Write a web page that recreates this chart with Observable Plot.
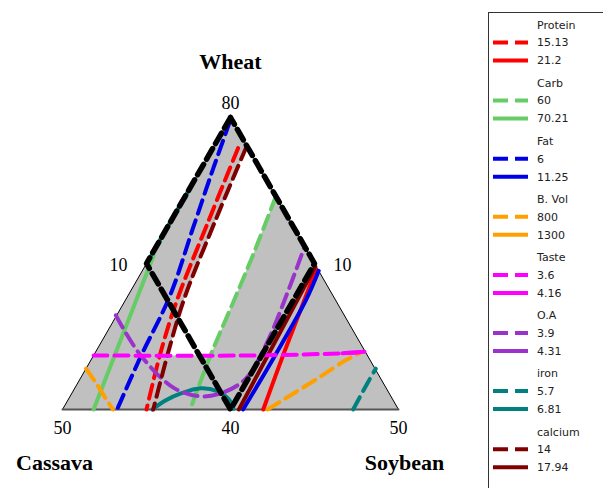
<!DOCTYPE html>
<html><head><meta charset="utf-8">
<script src="https://cdn.jsdelivr.net/npm/d3@7"></script>
<script src="https://cdn.jsdelivr.net/npm/@observablehq/plot@0.6"></script>
<style>
body{margin:0;background:#fff;}
#wrap{position:relative;width:603px;height:488px;overflow:hidden;background:#fff;}
#chart{position:absolute;left:0;top:0;}
#legend{position:absolute;left:488px;top:12px;}
</style></head><body>
<div id="wrap"><div id="chart"></div><div id="legend"></div></div>
<script>
// Mixture space (%): Wheat 40–80, Cassava 10–50, Soybean 10–50
const componentNames = ["Wheat", "Cassava", "Soybean"];
const wheatMin = 40, soyMin = 10, span = 40;

// Vertex / side labels as [wheat, soybean] compositions
const tickLabels = ["80", "10", "10", "50", "40", "50"];
const tickPoints = [[80,10],[60,10],[60,30],[40,10],[40,30],[40,50]];

// Legend
const responses = ["Protein", "Carb", "Fat", "B. Vol", "Taste", "O.A", "iron", "calcium"];
const lowLevels = ["15.13", "60", "6", "800", "3.6", "3.9", "5.7", "14"];
const highLevels = ["21.2", "70.21", "11.25", "1300", "4.16", "4.31", "6.81", "17.94"];
const colors = ["#ff0000", "#66cc66", "#0000e8", "#ffa000", "#ff00ff", "#9933cc", "#008080", "#800000"];

// Constraint region boundary (cassava ≤ 30, soybean ≤ 30) and overlaid feasible (white) region
const constraintBoundary = [[80,10],[60,10],[40,30],[60,30],[80,10]];
const feasibleRegion = [[76.0,13.9],[69.2,20.8],[61.8,22.0],[55.3,22.9],[47.4,23.9],[47.4,18.8],[48.1,18.6],[55.2,16.9],[65.6,15.3],[76.0,13.9]];

// Contour lines, points as [wheat %, soybean %]
const proteinLow  = [[75.8,13.0],[65.6,14.5],[55.2,16.1],[48.1,17.7],[40,20.0]];
const proteinHigh = [[59.2,30.6],[53.2,31.6],[47.7,32.5],[40,33.9]];
const carbLow     = [[69.2,20.8],[61.8,22.0],[55.3,22.9],[47.5,23.9],[40,25.2]];
const carbHigh    = [[61.1,10.3],[40,13.7]];
const fatLow      = [[79.5,10.2],[73.2,11.4],[64.9,13.1],[55.6,15.0],[47.1,15.7],[40,16.5]];
const fatHigh     = [[59.0,31.0],[54.9,31.5],[47.1,31.6],[40,31.5]];
const bvolLowA    = [[40,34.4],[44.2,38.2],[46.7,40.3],[47.9,41.7]];
const bvolLowB    = [[45.6,10.0],[43.7,12.1],[41.5,14.4],[40,16.0]];
const tasteLow    = [[47.4,10.0],[47.4,28.7],[47.7,39.3],[47.9,42.0]];
const tasteHigh   = [[47.7,39.5],[47.9,42.0]];
const oaLow       = [[52.9,9.9],[47.5,15.5],[43.0,21.7],[41.8,25.5],[42.3,27.9],[44.2,29.7],[48.8,29.8],[55.9,28.8],[62.1,27.7]];
const ironLowA    = [[40,44.6],[43.6,44.5],[45.6,44.5]];
const ironLowB    = [[71.0,10.0],[61.0,10.0]];
const ironHigh    = [[40,20.7],[41.2,21.6],[42.2,23.0],[42.9,25.0],[42.5,27.2],[41.4,29.1],[40.1,30.3]];
const calciumLow  = [[76.0,13.9],[65.6,15.3],[55.2,16.9],[48.1,18.6],[40,20.8]];
const calciumHigh = [[59.6,30.3],[40,31.0]];

const contours = [
  {r:0, dashed:true,  pts:proteinLow},  {r:0, dashed:false, pts:proteinHigh},
  {r:1, dashed:true,  pts:carbLow},     {r:1, dashed:false, pts:carbHigh},
  {r:2, dashed:true,  pts:fatLow},      {r:2, dashed:false, pts:fatHigh},
  {r:3, dashed:true,  pts:bvolLowA},    {r:3, dashed:true,  pts:bvolLowB},
  {r:6, dashed:true,  pts:ironLowA},    {r:6, dashed:true,  pts:ironLowB},
  {r:6, dashed:false, pts:ironHigh},
  {r:5, dashed:true,  pts:oaLow},
  {r:7, dashed:true,  pts:calciumLow},  {r:7, dashed:false, pts:calciumHigh},
  {r:4, dashed:true,  pts:tasteLow},    {r:4, dashed:false, pts:tasteHigh}
];

// ternary → cartesian (pseudo-components)
const H = Math.sqrt(3) / 2;
function tern([w, s]) {
  const W = (w - wheatMin) / span, S = (s - soyMin) / span;
  return {x: S + W / 2, y: W * H};
}
const toXY = (arr) => arr.map(tern);

const triangle = toXY([[80,10],[40,10],[40,50],[80,10]]);
const leftRight = toXY([[40,10],[80,10],[40,50]]);
const bottom = toXY([[40,10],[40,50]]);

const contourMarks = contours.map(c => Plot.line(toXY(c.pts), {
  x: "x", y: "y", stroke: colors[c.r], strokeWidth: 4,
  strokeDasharray: c.dashed ? "14,7" : null, curve: "catmull-rom"
}));

const ticks = tickPoints.map((p, i) => ({...tern(p), label: tickLabels[i]}));
const tickDx = [0, -28, 28, 0, 0, 0];
const tickDy = [-14, 2, 2, 19, 19, 19];

const vertexNames = [
  {...tern([80,10]), label: componentNames[0], dx: 0, dy: -56},
  {...tern([40,10]), label: componentNames[1], dx: -8, dy: 53},
  {...tern([40,50]), label: componentNames[2], dx: 6, dy: 53}
];

const chart = Plot.plot({
  width: 603, height: 488, margin: 0,
  x: {domain: [0, 1], range: [62, 398], axis: null},
  y: {domain: [0, H], range: [409, 117], axis: null},
  marks: [
    Plot.line(triangle, {x: "x", y: "y", fill: "#c0c0c0", stroke: "none"}),
    Plot.line(toXY(feasibleRegion), {x: "x", y: "y", fill: "#ffffff", stroke: "none"}),
    Plot.line(leftRight, {x: "x", y: "y", stroke: "#000", strokeWidth: 1}),
    Plot.line(bottom, {x: "x", y: "y", stroke: "#555", strokeWidth: 2}),
    ...contourMarks,
    Plot.line(toXY(constraintBoundary), {x: "x", y: "y", stroke: "#000", strokeWidth: 5.5, strokeDasharray: "12,6"}),
    ...ticks.map((t, i) => Plot.text([t], {x: "x", y: "y", text: "label", dx: tickDx[i], dy: tickDy[i],
      fontFamily: "Liberation Serif", fontSize: 18, fill: "#000"})),
    ...vertexNames.map(v => Plot.text([v], {x: "x", y: "y", text: "label", dx: v.dx, dy: v.dy,
      fontFamily: "Liberation Serif", fontSize: 22, fontWeight: "bold", fill: "#000"}))
  ]
});
document.getElementById("chart").append(chart);

// Legend
const lg = d3.select("#legend").append("svg").attr("width", 115).attr("height", 476)
  .style("font-family", "DejaVu Sans").style("font-size", "11px");
lg.append("rect").attr("x", 0.5).attr("y", 0.5).attr("width", 300).attr("height", 600)
  .attr("fill", "none").attr("stroke", "#333").attr("stroke-width", 1);
responses.forEach((name, i) => {
  const y0 = 13 + i * 58.1;
  lg.append("text").attr("x", 49).attr("y", y0).attr("dy", "0.35em").attr("fill", "#222").text(name);
  [[lowLevels[i], true], [highLevels[i], false]].forEach(([lev, dashed], j) => {
    const y = y0 + 17.5 + j * 18;
    lg.append("line").attr("x1", 5).attr("x2", 40).attr("y1", y).attr("y2", y)
      .attr("stroke", colors[i]).attr("stroke-width", 4)
      .attr("stroke-dasharray", dashed ? "15,7" : null);
    lg.append("text").attr("x", 49).attr("y", y).attr("dy", "0.35em").attr("fill", "#222").text(lev);
  });
});
</script>
</body></html>
